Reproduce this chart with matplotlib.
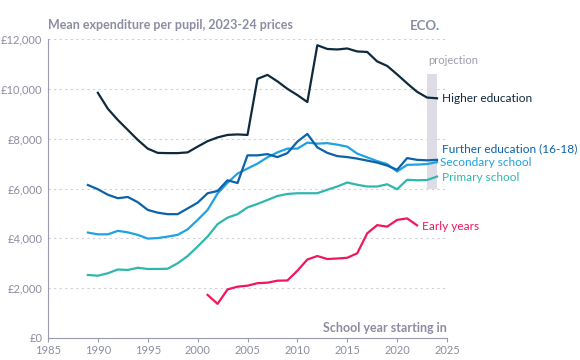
import numpy as np
import matplotlib.pyplot as plt

plt.rcParams['font.family'] = ['Lato', 'DejaVu Sans']

years_he = list(range(1990, 2025))
higher_ed = [9840, 9200, 8750, 8350, 7950, 7600, 7430, 7420, 7420, 7450,
             7680, 7900, 8050, 8150, 8170, 8150, 10400, 10560, 10300, 10000,
             9750, 9470, 11750, 11600, 11580, 11620, 11500, 11480, 11100, 10920,
             10580, 10220, 9880, 9650, 9620]

years_sch = list(range(1989, 2025))
further_ed = [6140, 5970, 5750, 5610, 5660, 5450, 5140, 5030, 4970, 4970,
              5200, 5430, 5810, 5900, 6330, 6220, 7330, 7330, 7380, 7260,
              7420, 7880, 8190, 7650, 7430, 7300, 7260, 7200, 7120, 7040,
              6920, 6750, 7220, 7150, 7130, 7150]
secondary = [4230, 4160, 4160, 4300, 4240, 4140, 3990, 4010, 4070, 4140,
             4360, 4740, 5140, 5800, 6230, 6600, 6800, 7000, 7250, 7450,
             7600, 7600, 7840, 7800, 7820, 7760, 7680, 7400, 7250, 7100,
             6980, 6680, 6950, 6960, 6980, 7060]
primary = [2530, 2500, 2600, 2750, 2730, 2820, 2770, 2770, 2780, 3000,
           3290, 3670, 4070, 4570, 4830, 4970, 5240, 5380, 5540, 5700,
           5780, 5810, 5810, 5810, 5950, 6080, 6240, 6150, 6080, 6080,
           6170, 5970, 6350, 6330, 6340, 6480]

years_ey = list(range(2001, 2023))
early_years = [1730, 1370, 1950, 2060, 2100, 2200, 2220, 2300, 2310, 2700,
               3150, 3290, 3170, 3190, 3220, 3400, 4200, 4530, 4470, 4740,
               4800, 4520]

c_he = '#0f2a3d'
c_fe = '#0b62a8'
c_sec = '#1ea2e2'
c_pri = '#2fb7ad'
c_ey = '#f0175a'
grey = '#8c8ca3'

fig = plt.figure(figsize=(5.8, 3.6), dpi=100)
ax = fig.add_axes([48/580, 22/360, 399/580, 299/360])

for y in range(2000, 12001, 2000):
    ax.axhline(y, color='#cfcfd6', lw=0.8, ls=(0, (2, 3)), zorder=0)

ax.axvspan(2023, 2024, ymin=6000/12000, ymax=10600/12000, color='#dedde6', lw=0, zorder=1)
ax.text(2023.1, 10900, 'projection', color='#9c9cb0', fontsize=8, ha='left', va='bottom')

ax.plot(years_he, higher_ed, color=c_he, lw=1.6, zorder=3)
ax.plot(years_sch, primary, color=c_pri, lw=1.6, zorder=3)
ax.plot(years_sch, secondary, color=c_sec, lw=1.6, zorder=3)
ax.plot(years_sch, further_ed, color=c_fe, lw=1.6, zorder=4)
ax.plot(years_ey, early_years, color=c_ey, lw=1.6, zorder=3)

lab = dict(fontsize=8.6, va='center', ha='left', clip_on=False)
ax.text(2024.5, 9620, 'Higher education', color=c_he, **lab)
ax.text(2024.5, 7610, 'Further education (16-18)', color=c_fe, **lab)
ax.text(2024.25, 7050, 'Secondary school', color=c_sec, **lab)
ax.text(2024.5, 6440, 'Primary school', color=c_pri, **lab)
ax.text(2022.5, 4490, 'Early years', color=c_ey, **lab)

ax.set_xlim(1985, 2025)
ax.set_ylim(0, 12000)
ax.set_xticks(range(1985, 2026, 5))
ax.set_yticks(range(0, 12001, 2000))
ax.set_yticklabels(['£0'] + ['£{:,}'.format(v) for v in range(2000, 12001, 2000)])

for s in ['top', 'right']:
    ax.spines[s].set_visible(False)
for s in ['left', 'bottom']:
    ax.spines[s].set_color('#9a9aae')
    ax.spines[s].set_linewidth(0.8)
ax.tick_params(axis='x', colors='#9a9aae', labelcolor=grey, labelsize=8, length=3, width=0.8, pad=2)
ax.tick_params(axis='y', length=0, labelcolor=grey, labelsize=8, pad=4)

ax.text(2025, 150, 'School year starting in', color=grey, fontsize=9, fontweight='bold',
        ha='right', va='bottom')
fig.text(48/580, 1 - 25/360, 'Mean expenditure per pupil, 2023-24 prices', color=grey,
         fontsize=9, fontweight='bold', ha='left', va='center')
fig.text(437/580, 1 - 26/360, 'ECO', color=grey, fontsize=9.5, fontweight='bold', ha='right', va='center')
fig.text(435.5/580, 1 - 26/360, '.', color=c_sec, fontsize=9.5, fontweight='bold', ha='left', va='center')

fig.savefig('out.png', dpi=100)
